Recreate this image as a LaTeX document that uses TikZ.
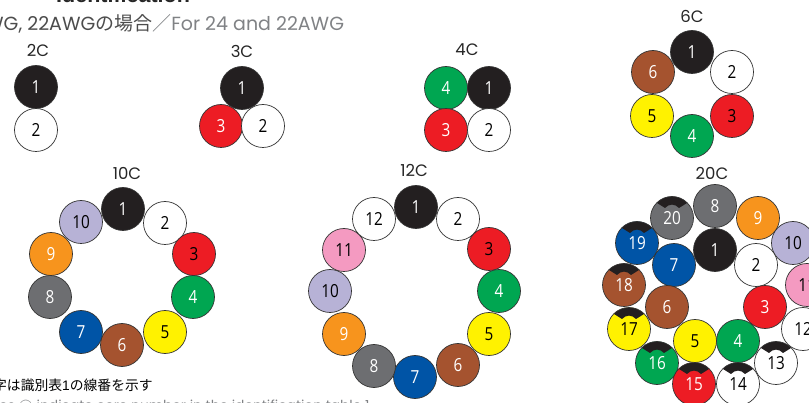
\documentclass[tikz,border=0pt]{standalone}
\usepackage{fontspec}
\setmainfont{Liberation Sans}
\newfontfamily\jpfont{Noto Sans CJK JP}[Scale=1]
\newfontfamily\widefont{Poppins}
\newfontfamily\numfont{Open Sans}[FakeStretch=0.85]
\definecolor{cblack}{HTML}{231F20}
\definecolor{cred}{HTML}{ED1C24}
\definecolor{cgreen}{HTML}{00A651}
\definecolor{cyellow}{HTML}{FFF200}
\definecolor{cbrown}{HTML}{A5532F}
\definecolor{cblue}{HTML}{0054A6}
\definecolor{cgrey}{HTML}{6D6E71}
\definecolor{corange}{HTML}{F7941D}
\definecolor{clav}{HTML}{B7B2D6}
\definecolor{cpink}{HTML}{F49AC1}
\definecolor{cwhite}{HTML}{FFFFFF}
\definecolor{gtext}{HTML}{808285}
\tikzset{
  core/.style={circle,draw=black!80,line width=0.7pt,minimum size=43pt,inner sep=0pt,
    font=\numfont\fontsize{18}{18}\selectfont},
  lbl/.style={font=\widefont\fontsize{16.5}{17}\selectfont,text=black!85,inner sep=0pt},
  head/.style={font=\widefont\fontsize{19}{20}\selectfont,inner sep=0pt,anchor=base west},
}
% name, x, y, fill, text colour, number
\newcommand{\core}[6]{\node[core,fill=#4,text=#5] (#1) at (#2,#3) {#6};}
% the same core with the black index mark at its top
\newcommand{\marked}[6]{%
  \begin{scope}
    \clip (#2,#3) circle (21.5pt);
    \fill[fill=#4] (#2,#3) circle (21.5pt);
    \fill[cblack,shift={(#2,#3)}] (-18,-25) -- (18,-25) -- (15,-15) -- (7,-10)
      .. controls (3,-14.5) and (-3,-14.5) .. (-7,-10) -- (-15,-15) -- cycle;
  \end{scope}
  \node[core,text=#5] (#1) at (#2,#3) {#6};}
\begin{document}
\begin{tikzpicture}[x=1pt,y=-1pt]
\useasboundingbox (0,0) rectangle (809,403);
\clip (0,0) rectangle (809,403);
% headings
\node[head,font=\jpfont\bfseries\fontsize{21}{21}\selectfont,text=black!85] (bracket) at (-12,4) {】};
\node[head,font=\bfseries\fontsize{21.5}{21}\selectfont,text=black!85] (title) at (56,3) {Identification};
\node[head,text=black!70] (sub) at (-15,31) {WG, 22AWG{\jpfont の場合}\textcolor{gtext}{{\jpfont ／}For 24 and 22AWG}};
\node[head,font=\fontsize{13.8}{14}\selectfont,text=black] (note1) at (-7,391) {{\jpfont 字は識別表}1{\jpfont の線番を示す}};
\node[head,font=\widefont\fontsize{13.8}{14}\selectfont,text=gtext] (note2) at (-1,410) {es \textcircled{\phantom{.}} indicate core number in the identification table 1};
% labels
\node[lbl] (l2) at (38,50) {2C};
\node[lbl] (l3) at (242,51) {3C};
\node[lbl] (l4) at (467,50) {4C};
\node[lbl] (l6) at (692,16) {6C};
\node[lbl] (l10) at (127,173) {10C};
\node[lbl] (l12) at (414,170) {12C};
\node[lbl] (l20) at (712,173) {20C};
% 2C
\core{a1}{36}{87}{cblack}{white}{1}
\core{a2}{36}{130}{cwhite}{black}{2}
% 3C
\core{b1}{242}{88}{cblack}{white}{1}
\core{b3}{221}{126}{cred}{white}{3}
\core{b2}{263}{126}{cwhite}{black}{2}
% 4C
\core{c4}{446}{88}{cgreen}{white}{4}
\core{c1}{489}{88}{cblack}{white}{1}
\core{c3}{446}{130}{cred}{white}{3}
\core{c2}{489}{130}{cwhite}{black}{2}
% 6C
\core{d6}{653}{72}{cbrown}{white}{6}
\core{d2}{732}{72}{cwhite}{black}{2}
\core{d1}{692}{52}{cblack}{white}{1}
\core{d5}{652}{116}{cyellow}{black}{5}
\core{d3}{732}{116}{cred}{black}{3}
\core{d4}{692}{136}{cgreen}{white}{4}
% 10C
\core{e1}{123}{209}{cblack}{white}{1}
\core{e2}{165}{223}{cwhite}{black}{2}
\core{e3}{194}{254}{cred}{black}{3}
\core{e4}{193}{297}{cgreen}{white}{4}
\core{e5}{165}{332}{cyellow}{black}{5}
\core{e6}{122}{345}{cbrown}{white}{6}
\core{e7}{81}{332}{cblue}{white}{7}
\core{e8}{50}{297}{cgrey}{white}{8}
\core{e9}{51}{254}{corange}{white}{9}
\core{e10}{81}{222}{clav}{black}{10}
% 12C
\core{f1}{416}{207}{cblack}{white}{1}
\core{f2}{458}{219}{cwhite}{black}{2}
\core{f3}{489}{249}{cred}{black}{3}
\core{f4}{499}{291}{cgreen}{white}{4}
\core{f5}{489}{334}{cyellow}{black}{5}
\core{f6}{458}{365}{cbrown}{white}{6}
\core{f7}{415}{377}{cblue}{white}{7}
\core{f8}{374}{366}{cgrey}{white}{8}
\core{f9}{344}{334}{corange}{white}{9}
\core{f10}{330}{291}{clav}{black}{10}
\core{f11}{344}{250}{cpink}{black}{11}
\core{f12}{374}{219}{cwhite}{black}{12}
% 20C outer ring
\core{g8}{715}{206}{cgrey}{white}{8}
\marked{g20}{672}{218}{cgrey}{white}{20}
\core{g9}{758}{218}{corange}{white}{9}
\marked{g19}{637}{243}{cblue}{white}{19}
\core{g10}{793}{243}{clav}{black}{10}
\marked{g18}{624}{285}{cbrown}{white}{18}
\core{g11}{807}{285}{cpink}{black}{11}
\marked{g17}{629}{329}{cyellow}{black}{17}
\core{g12}{803}{329}{cwhite}{black}{12}
\marked{g16}{657}{363}{cgreen}{white}{16}
\marked{g13}{776}{363}{cwhite}{black}{13}
\marked{g15}{694}{384}{cred}{white}{15}
\marked{g14}{738}{384}{cwhite}{black}{14}
% 20C inner ring
\core{g1}{715}{250}{cblack}{white}{1}
\core{g2}{756}{265}{cwhite}{black}{2}
\core{g7}{674}{265}{cblue}{white}{7}
\core{g6}{667}{307}{cbrown}{white}{6}
\core{g3}{765}{307}{cred}{white}{3}
\core{g5}{695}{341}{cyellow}{black}{5}
\core{g4}{738}{341}{cgreen}{white}{4}
\end{tikzpicture}
\end{document}
